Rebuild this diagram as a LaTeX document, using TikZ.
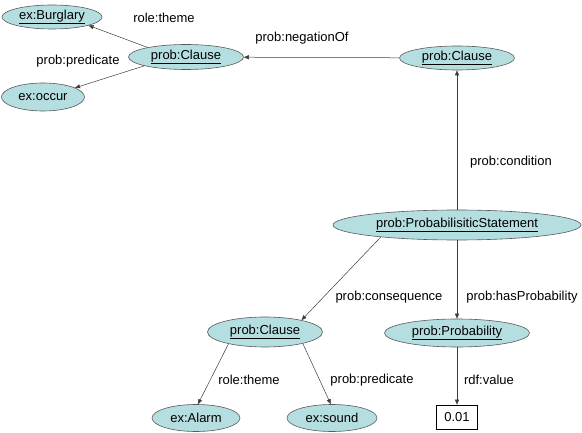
\documentclass[tikz,border=0pt]{standalone}
\usepackage{fontspec}
\setmainfont{Liberation Sans}
\usetikzlibrary{shapes.geometric,arrows.meta}
\definecolor{nodefill}{RGB}{180,222,224}
\definecolor{nodeline}{RGB}{90,90,90}
\definecolor{edgecol}{RGB}{60,60,60}
\tikzset{
  res/.style={ellipse, draw=nodeline, fill=nodefill, line width=0.6pt, inner sep=0pt, font=\fontsize{13}{15}\selectfont},
  lit/.style={rectangle, draw=black, fill=white, line width=0.6pt, inner sep=0pt, minimum width=41pt, minimum height=24pt, font=\fontsize{13}{15}\selectfont},
  lbl/.style={inner sep=0pt, font=\fontsize{13}{15}\selectfont},
  edge/.style={draw=edgecol, line width=0.5pt, -{Triangle[length=5pt,width=4pt]}}
}
\begin{document}
\begin{tikzpicture}[x=1pt,y=-1pt]
\useasboundingbox (0,0) rectangle (582,433);
% nodes
\node[res, minimum width=100pt, minimum height=24pt] (burg) at (52,17) {\underline{ex:Burglary}};
\node[res, minimum width=83pt, minimum height=28pt] (occur) at (43,97) {ex:occur};
\node[res, minimum width=115pt, minimum height=25pt] (clL) at (186,57) {\underline{prob:Clause}};
\node[res, minimum width=115pt, minimum height=24pt] (clR) at (457,58) {\underline{prob:Clause}};
\node[res, minimum width=248pt, minimum height=30pt] (stmt) at (457,225) {\underline{prob:ProbabilisiticStatement}};
\node[res, minimum width=145pt, minimum height=28pt] (prob) at (457,333) {\underline{prob:Probability}};
\node[res, minimum width=115pt, minimum height=30pt] (clB) at (265,332) {\underline{prob:Clause}};
\node[res, minimum width=88pt, minimum height=27pt] (alarm) at (196,418) {ex:Alarm};
\node[res, minimum width=90pt, minimum height=27pt] (sound) at (332,418) {ex:sound};
\node[lit] (val) at (457,417) {0.01};
% edges
\draw[edge] (clL.166) -- (burg.347);
\draw[edge] (clL.192) -- (occur.16);
\draw[edge] (clR) -- (clL);
\draw[edge] (stmt) -- (clR);
\draw[edge] (stmt.189) -- (clB.18);
\draw[edge] (stmt) -- (prob);
\draw[edge] (prob) -- (val);
\draw[edge] (clB.198) -- (alarm.82);
\draw[edge] (clB.343) -- (sound.95);
% labels
\node[lbl] (l1) at (164,18) {role:theme};
\node[lbl] (l2) at (78,61) {prob:predicate};
\node[lbl] (l3) at (302,38) {prob:negationOf};
\node[lbl] (l4) at (511,162) {prob:condition};
\node[lbl] (l5) at (389,297) {prob:consequence};
\node[lbl] (l6) at (522,297) {prob:hasProbability};
\node[lbl] (l7) at (489,380) {rdf:value};
\node[lbl] (l8) at (249,380) {role:theme};
\node[lbl] (l9) at (372,380) {prob:predicate};
\end{tikzpicture}
\end{document}
